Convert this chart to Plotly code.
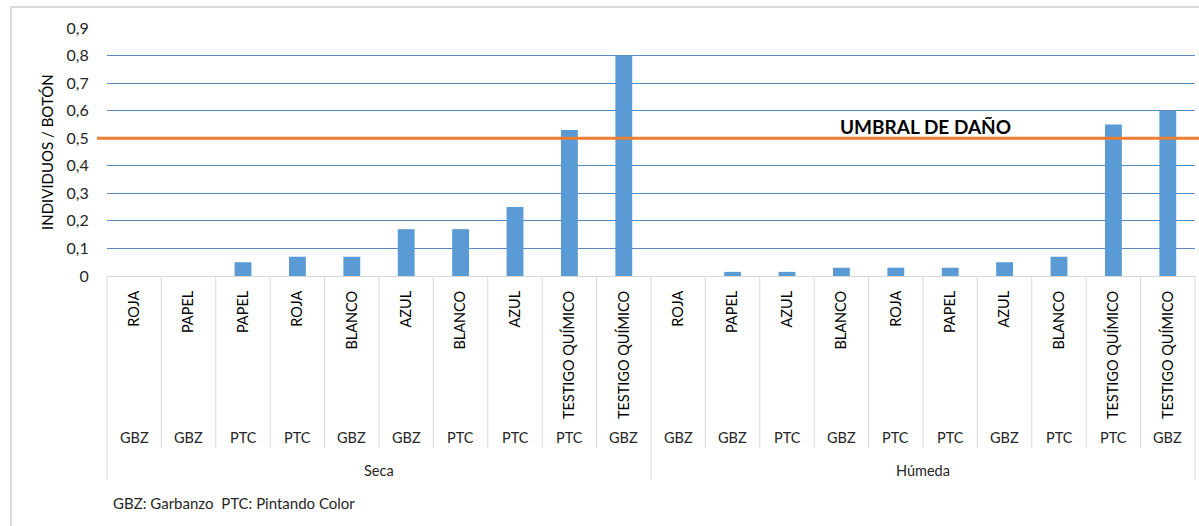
import plotly.graph_objects as go

treatments = ["ROJA", "PAPEL", "PAPEL", "ROJA", "BLANCO", "AZUL", "BLANCO", "AZUL",
              "TESTIGO QUÍMICO", "TESTIGO QUÍMICO",
              "ROJA", "PAPEL", "AZUL", "BLANCO", "ROJA", "PAPEL", "AZUL", "BLANCO",
              "TESTIGO QUÍMICO", "TESTIGO QUÍMICO"]
crops = ["GBZ", "GBZ", "PTC", "PTC", "GBZ", "GBZ", "PTC", "PTC", "PTC", "GBZ",
         "GBZ", "GBZ", "PTC", "GBZ", "PTC", "PTC", "GBZ", "PTC", "PTC", "GBZ"]
seasons = ["Seca", "Húmeda"]
season_sizes = [10, 10]
values = [0, 0, 0.05, 0.07, 0.07, 0.17, 0.17, 0.25, 0.53, 0.80,
          0, 0.015, 0.015, 0.03, 0.03, 0.03, 0.05, 0.07, 0.55, 0.60]
threshold = 0.5
threshold_label = "UMBRAL DE DAÑO"
y_ticks = [0, 0.1, 0.2, 0.3, 0.4, 0.5, 0.6, 0.7, 0.8, 0.9]
y_title = "INDIVIDUOS / BOTÓN"
footnote = "GBZ: Garbanzo  PTC: Pintando Color"

FONT = "Lato"
N = len(values)
idx = list(range(N))

W, H = 1199, 526
ml, mr, mt, mb = 107, 4, 28, 250
pw, ph = W - ml - mr, H - mt - mb

def py(pix):  # pixel y -> paper y
    return (H - mb - pix) / ph

def px(pix):
    return (pix - ml) / pw

fig = go.Figure()
fig.add_trace(go.Bar(x=idx, y=values, marker=dict(color="#5b9bd5", line=dict(width=0)),
                     width=0.31, hoverinfo="y"))

ann = []
for i in idx:
    ann.append(dict(x=i, xref="x", y=py(437), yref="paper", text=crops[i],
                    showarrow=False, xanchor="center", yanchor="middle",
                    font=dict(family=FONT, size=14.5, color="#262626")))
start = 0
for s, n in zip(seasons, season_sizes):
    ann.append(dict(x=start + (n - 1) / 2, xref="x", y=py(470), yref="paper", text=s,
                    showarrow=False, xanchor="center", yanchor="middle",
                    font=dict(family=FONT, size=14.5, color="#262626")))
    start += n

ann.append(dict(x=px(838), xref="paper", y=threshold, yref="y", yshift=12,
                text="<b>" + threshold_label + "</b>", showarrow=False,
                xanchor="left", yanchor="middle",
                font=dict(family=FONT, size=19, color="#000000")))
ann.append(dict(x=px(47), xref="paper", y=py(152), yref="paper", text=y_title,
                textangle=-90, showarrow=False, xanchor="center", yanchor="middle",
                font=dict(family=FONT, size=15, color="#000000")))
ann.append(dict(x=px(111), xref="paper", y=py(503), yref="paper", text=footnote,
                showarrow=False, xanchor="left", yanchor="middle",
                font=dict(family=FONT, size=15, color="#262626")))

shapes = []
# outer frame
shapes.append(dict(type="rect", xref="paper", yref="paper", x0=px(11), x1=px(1210),
                   y0=py(540), y1=py(7), line=dict(color="#d9d9d9", width=2), layer="below"))
# category dividers
bounds = [0]
for n in season_sizes:
    bounds.append(bounds[-1] + n)
for k in range(N + 1):
    outer = k in bounds
    shapes.append(dict(type="line", xref="paper", yref="paper",
                       x0=k / N, x1=k / N, y0=0, y1=py(480) if outer else py(448),
                       line=dict(color="#d9d9d9", width=1)))
# threshold line
shapes.append(dict(type="line", xref="paper", yref="y", x0=px(97), x1=px(1199),
                   y0=threshold, y1=threshold, line=dict(color="#ed7d31", width=3)))

fig.update_layout(
    width=W, height=H, margin=dict(l=ml, r=mr, t=mt, b=mb),
    paper_bgcolor="white", plot_bgcolor="white",
    separators=", ", showlegend=False,
    annotations=ann, shapes=shapes,
    xaxis=dict(range=[-0.5, N - 0.5], tickmode="array", tickvals=idx, ticktext=treatments,
               tickangle=-90, showticklabels=True, showgrid=False,
               zeroline=False, showline=True, linecolor="#d9d9d9", linewidth=1,
               ticks="outside", ticklen=8, tickcolor="rgba(0,0,0,0)",
               tickfont=dict(family=FONT, size=14.5, color="#000000"), fixedrange=True),
    yaxis=dict(range=[0, 0.9], tickvals=y_ticks, showgrid=True, gridcolor="#5a86b8",
               gridwidth=1, zeroline=False, showline=False, ticks="outside",
               ticklen=14, tickcolor="rgba(0,0,0,0)",
               tickfont=dict(family=FONT, size=16, color="#262626"), fixedrange=True),
    bargap=0.69,
)

fig.write_html("out.html")
